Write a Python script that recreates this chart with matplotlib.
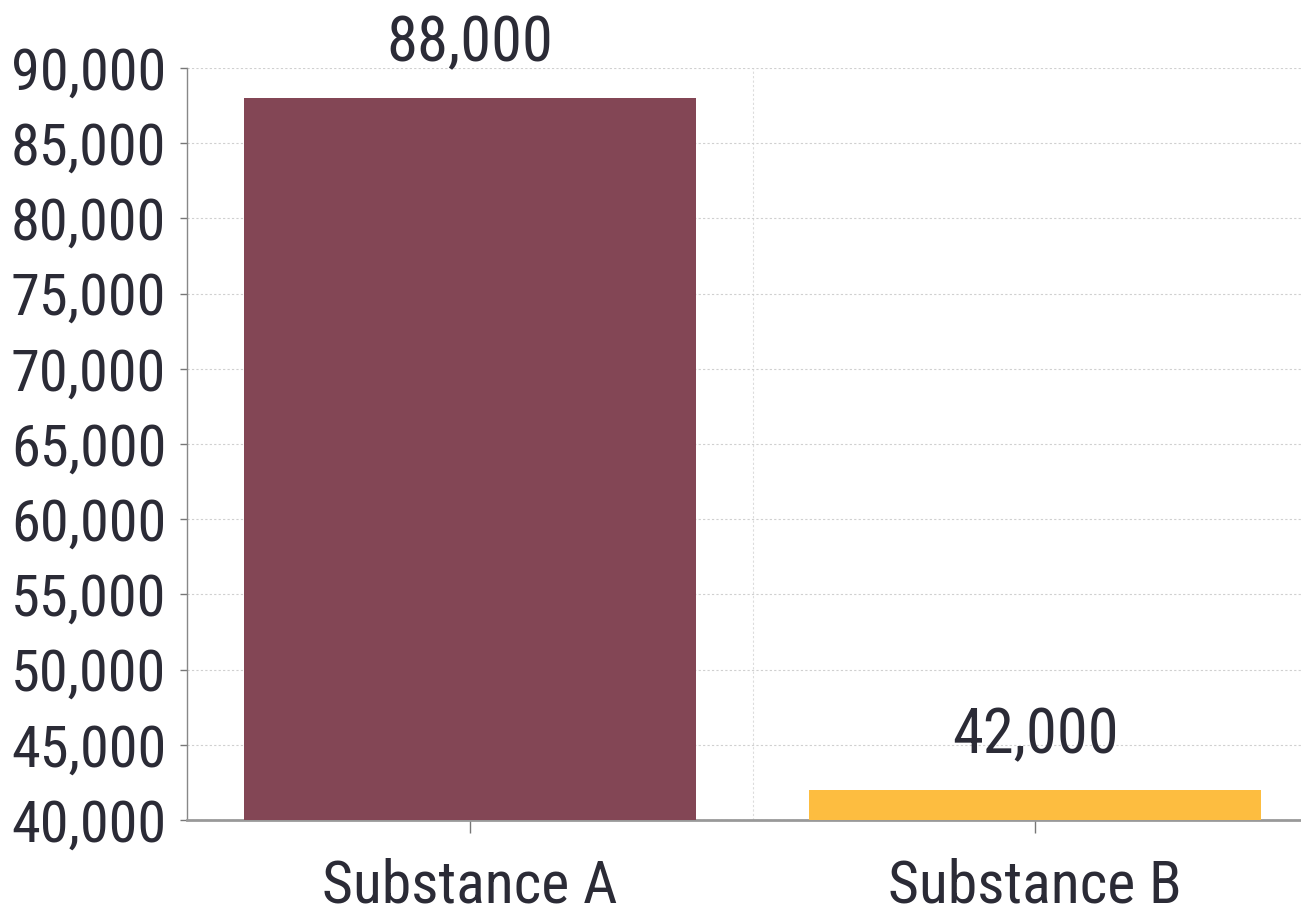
import matplotlib
matplotlib.use("Agg")
import matplotlib.pyplot as plt
from matplotlib.ticker import FuncFormatter, MultipleLocator, FixedLocator

categories = ["Substance A", "Substance B"]
values = [88000, 42000]
colors = ["#834655", "#FDBD40"]

plt.rcParams["font.family"] = ["Roboto Condensed", "Liberation Sans", "DejaVu Sans"]
TXT = "#2b2b36"

fig = plt.figure(figsize=(13.01, 9.13), dpi=100)
W, H = 1301, 913
ax = fig.add_axes([187 / W, 1 - 820 / H, (1318 - 187) / W, (820 - 68) / H])

x = range(len(categories))
ax.bar(x, values, width=0.8, color=colors, zorder=3)
for xi, v in zip(x, values):
    ax.annotate(f"{v:,}", (xi, v), xytext=(0, 17), textcoords="offset points",
                ha="center", va="bottom", fontsize=45, color=TXT)

ax.set_xlim(-0.5, 1.5)
ax.set_ylim(40000, 90000)
ax.set_xticks(list(x))
ax.set_xticklabels(categories)
ax.yaxis.set_major_locator(MultipleLocator(5000))
ax.yaxis.set_major_formatter(FuncFormatter(lambda v, p: f"{int(v):,}"))
ax.xaxis.set_minor_locator(FixedLocator([0.5, 1.5]))

ax.grid(axis="y", which="major", linestyle=(0, (2, 2)), color="#d0d0d0", linewidth=0.8, zorder=0)
ax.grid(axis="x", which="minor", linestyle=(0, (2, 2)), color="#dcdcdc", linewidth=0.8, zorder=0)
ax.tick_params(axis="x", which="minor", length=0)
ax.tick_params(axis="both", which="major", labelcolor=TXT, color="#777777")
ax.tick_params(axis="y", labelsize=42, length=5, width=1, pad=10)
ax.tick_params(axis="x", labelsize=43, length=9, width=1, pad=18)

for s in ["top", "right"]:
    ax.spines[s].set_visible(False)
ax.spines["left"].set_color("#888888")
ax.spines["left"].set_linewidth(1)
ax.spines["bottom"].set_color("#999999")
ax.spines["bottom"].set_linewidth(2)

fig.savefig("out.png", dpi=100)
